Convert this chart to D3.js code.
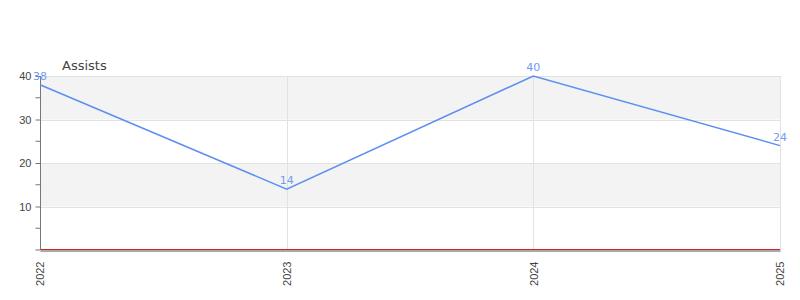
<!DOCTYPE html>
<html><head><meta charset="utf-8">
<script src="https://cdn.jsdelivr.net/npm/d3@7"></script>
<style>body{margin:0;background:#fff}svg{display:block;font-family:"DejaVu Sans",sans-serif}</style>
</head><body><svg id="c" width="800" height="300"></svg>
<script>
const categories = ["2022","2023","2024","2025"];
const assists = [38,14,40,24];
const yTicks = [10,20,30,40];
const seriesName = "Assists";

const svg = d3.select("#c");
const m = {left:40, right:780, top:76, bottom:250};
const x = d3.scalePoint().domain(categories).range([m.left, m.right]);
const y = d3.scaleLinear().domain([0,40]).range([m.bottom, m.top]);

// bands
const bands = [[30,40],[10,20]];
svg.selectAll("rect.band").data(bands).enter().append("rect")
  .attr("x", m.left).attr("width", m.right-m.left)
  .attr("y", d=>y(d[1])).attr("height", d=>y(d[0])-y(d[1]))
  .attr("fill","#f3f3f3");
// horizontal grid
svg.selectAll("line.hg").data(yTicks).enter().append("line")
  .attr("x1", m.left).attr("x2", m.right)
  .attr("y1", d=>Math.round(y(d))+0.5).attr("y2", d=>Math.round(y(d))+0.5)
  .attr("stroke","#e2e2e2");
// vertical grid
svg.selectAll("line.vg").data(categories).enter().append("line")
  .attr("x1", d=>Math.round(x(d))+0.5).attr("x2", d=>Math.round(x(d))+0.5)
  .attr("y1", m.top).attr("y2", m.bottom)
  .attr("stroke","#e2e2e2");

// baseline red
svg.append("line").attr("x1", m.left).attr("x2", m.right)
  .attr("y1", y(0)-0.5).attr("y2", y(0)-0.5).attr("stroke","#d62020").attr("stroke-width",1);

// y axis
const yAxis = d3.axisLeft(y).tickValues(yTicks).tickSize(5).tickPadding(4);
const gy = svg.append("g").attr("transform",`translate(${m.left+0.5},0)`).call(yAxis);
gy.select(".domain").attr("stroke","#777").attr("d",`M0,${y(40)}V${y(0)}`);
gy.selectAll(".tick line").attr("stroke","#777");
gy.selectAll(".tick text").attr("fill","#444").style("font-size","11px");
const minor = [5,15,25,35];
gy.selectAll("line.minor").data(minor).enter().append("line")
  .attr("x1",-5).attr("x2",0).attr("y1",d=>y(d)).attr("y2",d=>y(d)).attr("stroke","#777");
gy.append("line").attr("x1",-5).attr("x2",0).attr("y1",y(0)).attr("y2",y(0)).attr("stroke","#777");

// x axis
const xAxis = d3.axisBottom(x).tickSize(0).tickPadding(0);
const gx = svg.append("g").attr("transform",`translate(0,${m.bottom+0.5})`).call(xAxis);
gx.select(".domain").attr("stroke","#555").attr("stroke-width",1.2);
gx.selectAll(".tick text").attr("fill","#444").style("font-size","11px")
  .attr("transform","rotate(-90)").attr("text-anchor","end")
  .attr("x",-11).attr("y",0).attr("dy","0.35em");

// line
const line = d3.line().x((d,i)=>x(categories[i])).y(d=>y(d));
svg.append("path").datum(assists).attr("d",line).attr("fill","none")
  .attr("stroke","#5b8ff0").attr("stroke-width",1.5);

// labels
svg.selectAll("text.lbl").data(assists).enter().append("text")
  .attr("x",(d,i)=>x(categories[i])).attr("y",d=>y(d)-5)
  .attr("text-anchor","middle").attr("fill","#6f9cf0").style("font-size","11px")
  .text(d=>d);

// title
svg.append("text").attr("x",62).attr("y",70).attr("fill","#444").style("font-size","13px").text(seriesName);
</script></body></html>
